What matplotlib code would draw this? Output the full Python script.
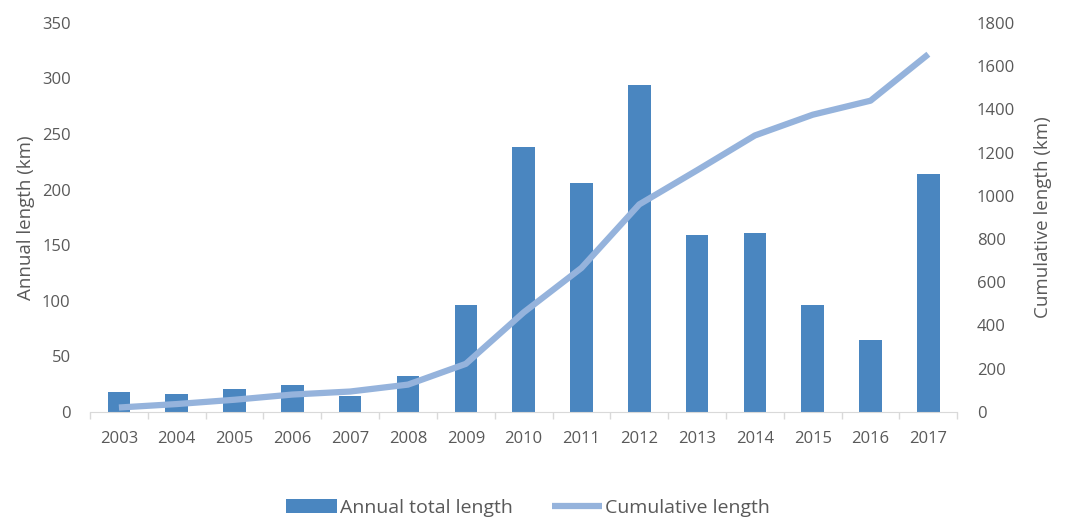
import numpy as np
import matplotlib.pyplot as plt
from matplotlib.ticker import FixedLocator

years = ['2003', '2004', '2005', '2006', '2007', '2008', '2009', '2010',
         '2011', '2012', '2013', '2014', '2015', '2016', '2017']
annual_km = [18, 16.5, 21, 24.5, 14.5, 32, 96, 238, 206, 294, 159.5, 161, 96, 64.5, 214]
cumulative_km = [20, 36, 56, 80, 94, 126, 222, 460, 666, 960, 1118, 1279, 1375, 1440, 1655]

plt.rcParams['font.family'] = ['Open Sans', 'DejaVu Sans']
txt = '#595959'
bar_col = '#4A86C0'
line_col = '#95B3DC'

fig = plt.figure(figsize=(10.78, 5.2), dpi=100)
ax = fig.add_axes([0.0835, 0.208, 0.8045, 0.748])
x = np.arange(len(years))

bars = ax.bar(x, annual_km, width=0.39, color=bar_col, label='Annual total length', zorder=2)
ax.set_ylim(0, 350)
ax.set_xlim(-0.5, len(years) - 0.5)
ax.set_yticks(np.arange(0, 351, 50))
ax.set_xticks(x)
ax.set_xticklabels(years)
ax.xaxis.set_minor_locator(FixedLocator(np.arange(-0.5, len(years), 1)))
ax.tick_params(axis='x', which='major', length=0, pad=14, labelsize=12, labelcolor=txt)
ax.tick_params(axis='x', which='minor', length=5, color='#D9D9D9', width=1)
ax.tick_params(axis='y', length=0, pad=14, labelsize=12, labelcolor=txt)
ax.set_ylabel('Annual length (km)', fontsize=13.5, color=txt, labelpad=5)
for s in ['top', 'right', 'left']:
    ax.spines[s].set_visible(False)
ax.spines['bottom'].set_color('#D9D9D9')

ax2 = ax.twinx()
line, = ax2.plot(x, cumulative_km, color=line_col, lw=4.5, solid_capstyle='butt',
                 label='Cumulative length', zorder=3)
ax2.set_ylim(0, 1800)
ax2.set_yticks(np.arange(0, 1801, 200))
ax2.tick_params(axis='y', length=0, pad=14, labelsize=12, labelcolor=txt)
ax2.set_ylabel('Cumulative length (km)', fontsize=13.5, color=txt, labelpad=14)
for s in ['top', 'right', 'left', 'bottom']:
    ax2.spines[s].set_visible(False)

fig.legend([bars, line], ['Annual total length', 'Cumulative length'],
           loc='center', bbox_to_anchor=(0.49, 0.024), ncol=2, frameon=False,
           fontsize=14, labelcolor=txt, handlelength=2.6, handletextpad=0.15,
           columnspacing=2.0)

fig.savefig('out.png', dpi=100)
